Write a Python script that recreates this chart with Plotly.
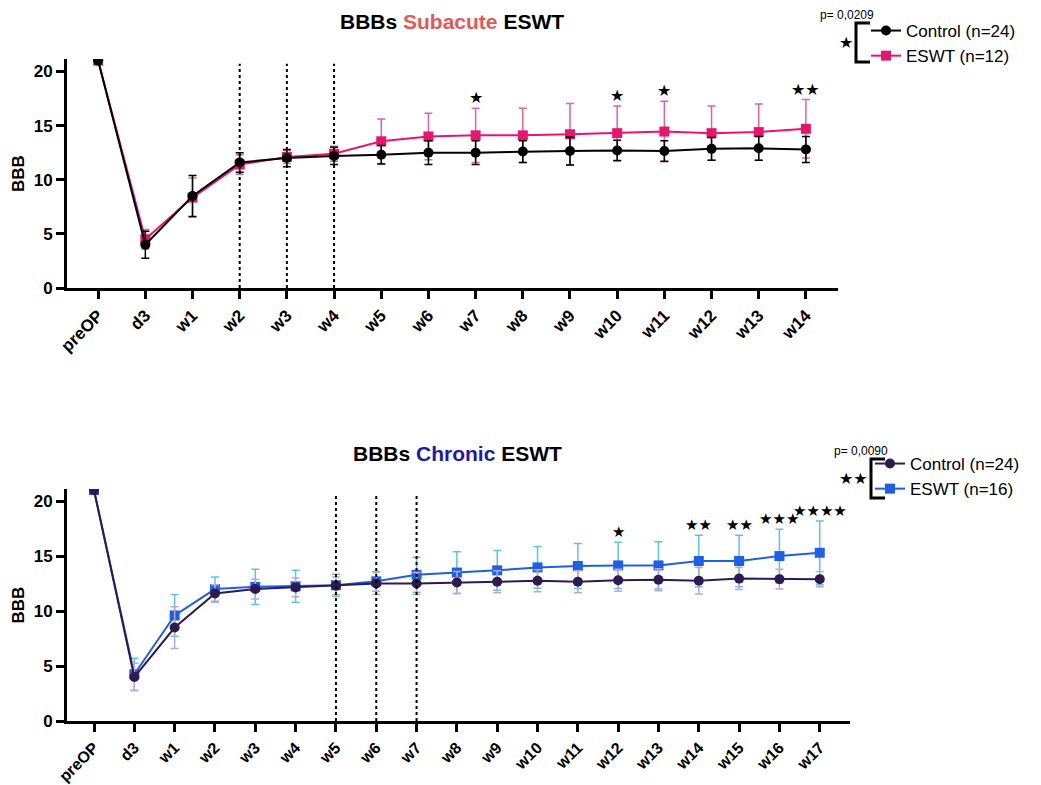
import plotly.graph_objects as go

W, H = 1041, 785

# ---------------- data ----------------
cats_sub = ["preOP", "d3", "w1", "w2", "w3", "w4", "w5", "w6", "w7", "w8",
            "w9", "w10", "w11", "w12", "w13", "w14"]
control_sub = [21, 4.0, 8.5, 11.6, 12.0, 12.2, 12.3, 12.5, 12.5, 12.6,
               12.65, 12.7, 12.65, 12.85, 12.9, 12.8]
control_sub_sd = [0, 1.25, 1.9, 0.9, 0.8, 0.8, 0.85, 1.1, 1.1, 1.0,
                  1.3, 0.95, 0.95, 1.05, 1.1, 1.2]
eswt_sub = [21, 4.5, 8.35, 11.4, 12.1, 12.4, 13.55, 14.0, 14.1, 14.1,
            14.2, 14.3, 14.45, 14.3, 14.4, 14.7]
eswt_sub_sd = [0, 0.9, 1.8, 0.9, 0.6, 0.7, 2.05, 2.15, 2.5, 2.5,
               2.85, 2.5, 2.8, 2.5, 2.6, 2.7]
treat_sub = ["w2", "w3", "w4"]
stars_sub = {"w7": "★", "w10": "★", "w11": "★", "w14": "★★"}

cats_chr = ["preOP", "d3", "w1", "w2", "w3", "w4", "w5", "w6", "w7", "w8",
            "w9", "w10", "w11", "w12", "w13", "w14", "w15", "w16", "w17"]
control_chr = [21, 4.0, 8.5, 11.6, 12.0, 12.15, 12.3, 12.5, 12.5, 12.6,
               12.67, 12.75, 12.67, 12.8, 12.85, 12.75, 12.95, 12.9, 12.9]
control_chr_sd = [0, 1.25, 1.9, 0.8, 0.9, 0.85, 0.8, 1.0, 1.0, 1.0,
                  1.0, 1.0, 1.0, 1.0, 1.0, 1.2, 1.0, 0.9, 0.7]
eswt_chr = [21, 4.25, 9.6, 12.0, 12.2, 12.25, 12.35, 12.7, 13.3, 13.5,
            13.7, 13.97, 14.1, 14.15, 14.15, 14.55, 14.55, 15.0, 15.3]
eswt_chr_sd = [0, 1.45, 1.9, 1.1, 1.6, 1.45, 1.0, 0.9, 1.6, 1.9,
               1.8, 1.9, 2.05, 2.1, 2.15, 2.35, 2.35, 2.45, 2.9]
treat_chr = ["w5", "w6", "w7"]
stars_chr = {"w12": "★", "w14": "★★", "w15": "★★", "w16": "★★★", "w17": "★★★★"}

# ---------------- styling ----------------
FONT = "Liberation Sans, Arial, sans-serif"
BLACK = "#000000"
PINK = "#e8156f"
PINK_ERR = "#e3629c"
PURPLE = "#2e1a52"
PURPLE_ERR = "#b9a9d6"
BLUE = "#1f5fe6"
CYAN_ERR = "#5cc6e0"


def px(x):
    return x / W


def py(y):
    return 1 - y / H


fig = go.Figure()


def add_series(x, y, sd, name, color, errcolor, symbol, xa, ya, legend, rank):
    fig.add_trace(go.Scatter(
        x=x, y=y, name=name, mode="lines+markers",
        line=dict(color=color, width=2),
        marker=dict(color=color, symbol=symbol, size=10),
        error_y=dict(type="data", array=sd, visible=True, color=errcolor,
                     thickness=1.5, width=4),
        xaxis=xa, yaxis=ya, legend=legend, legendrank=rank,
    ))


# top chart (ESWT first so control draws on top)
add_series(cats_sub, eswt_sub, eswt_sub_sd, "ESWT (n=12)", PINK, PINK_ERR,
           "square", "x", "y", "legend", 2)
add_series(cats_sub, control_sub, control_sub_sd, "Control (n=24)", BLACK, BLACK,
           "circle", "x", "y", "legend", 1)
# bottom chart
add_series(cats_chr, eswt_chr, eswt_chr_sd, "ESWT (n=16)", BLUE, CYAN_ERR,
           "square", "x2", "y2", "legend2", 2)
add_series(cats_chr, control_chr, control_chr_sd, "Control (n=24)", PURPLE, PURPLE_ERR,
           "circle", "x2", "y2", "legend2", 1)

axis_common = dict(
    showline=True, linewidth=3, linecolor=BLACK, ticks="outside",
    ticklen=8, tickwidth=3, tickcolor=BLACK, showgrid=False, zeroline=False,
    automargin=False,
    tickfont=dict(family=FONT, size=17, color=BLACK, weight="bold"),
)

fig.update_layout(
    width=W, height=H,
    margin=dict(l=0, r=0, t=0, b=0),
    paper_bgcolor="white", plot_bgcolor="white",
    font=dict(family=FONT, color=BLACK),
    xaxis=dict(axis_common, domain=[px(67), px(838)], anchor="y",
               type="category", categoryorder="array", categoryarray=cats_sub,
               range=[-0.66, 15.68], tickangle=-45),
    yaxis=dict(axis_common, domain=[py(288), py(59)], anchor="x",
               range=[0, 21.15], tickvals=[0, 5, 10, 15, 20],
               title=dict(text="BBB", standoff=5,
                          font=dict(family=FONT, size=17, weight="bold"))),
    xaxis2=dict(axis_common, domain=[px(67), px(850)], anchor="y2",
                type="category", categoryorder="array", categoryarray=cats_chr,
                range=[-0.67, 18.75], tickangle=-45,
                tickfont=dict(family=FONT, size=16, color=BLACK, weight="bold")),
    yaxis2=dict(axis_common, domain=[py(721), py(489)], anchor="x2",
                range=[0, 21.1], tickvals=[0, 5, 10, 15, 20],
                title=dict(text="BBB", standoff=5,
                           font=dict(family=FONT, size=17, weight="bold"))),
    legend=dict(x=px(866), y=py(13), xanchor="left", yanchor="top",
                bgcolor="rgba(0,0,0,0)", traceorder="normal",
                font=dict(family=FONT, size=17, color=BLACK),
                itemwidth=30, tracegroupgap=0),
    legend2=dict(x=px(870), y=py(446), xanchor="left", yanchor="top",
                 bgcolor="rgba(0,0,0,0)", traceorder="normal",
                 font=dict(family=FONT, size=17, color=BLACK),
                 itemwidth=30, tracegroupgap=0),
    showlegend=True,
)

shapes = []
annotations = []

# dotted treatment lines
for c in treat_sub:
    shapes.append(dict(type="line", xref="x", yref="y", x0=c, x1=c, y0=0, y1=20.7,
                       line=dict(color=BLACK, width=2, dash="dot")))
for c in treat_chr:
    shapes.append(dict(type="line", xref="x2", yref="y2", x0=c, x1=c, y0=0, y1=20.7,
                       line=dict(color=BLACK, width=2, dash="dot")))

# significance stars
for c, s in stars_sub.items():
    i = cats_sub.index(c)
    annotations.append(dict(x=c, y=eswt_sub[i] + eswt_sub_sd[i], xref="x", yref="y",
                            text=s, showarrow=False, yanchor="bottom", yshift=-1,
                            font=dict(family="DejaVu Sans", size=16, color=BLACK)))
for c, s in stars_chr.items():
    i = cats_chr.index(c)
    annotations.append(dict(x=c, y=eswt_chr[i] + eswt_chr_sd[i], xref="x2", yref="y2",
                            text=s, showarrow=False, yanchor="bottom", yshift=-1,
                            font=dict(family="DejaVu Sans", size=15, color=BLACK)))

# titles
annotations.append(dict(x=px(452), y=py(22), xref="paper", yref="paper",
                        xanchor="center", yanchor="middle",
                        text="<b>BBBs <span style='color:#e45858'>Subacute</span> ESWT</b>",
                        showarrow=False, font=dict(family=FONT, size=21, color=BLACK)))
annotations.append(dict(x=px(457), y=py(453), xref="paper", yref="paper",
                        xanchor="center", yanchor="middle",
                        text="<b>BBBs <span style='color:#1c1aa6'>Chronic</span> ESWT</b>",
                        showarrow=False, font=dict(family=FONT, size=21, color=BLACK)))


def bracket(xv, ytop, ybot, xr, star, star_x, ptext, p_x, p_y):
    shapes.append(dict(type="path", xref="paper", yref="paper",
                       path=f"M {px(xr)},{py(ytop)} L {px(xv)},{py(ytop)} "
                            f"L {px(xv)},{py(ybot)} L {px(xr)},{py(ybot)}",
                       line=dict(color=BLACK, width=3)))
    annotations.append(dict(x=px(star_x), y=py((ytop + ybot) / 2), xref="paper",
                            yref="paper", text=star, showarrow=False,
                            xanchor="right", yanchor="middle",
                            font=dict(family="DejaVu Sans", size=16, color=BLACK)))
    annotations.append(dict(x=px(p_x), y=py(p_y), xref="paper", yref="paper",
                            text=ptext, showarrow=False,
                            xanchor="center", yanchor="middle",
                            font=dict(family=FONT, size=12, color=BLACK)))


bracket(856, 23, 62, 870, "★", 855, "p= 0,0209", 847, 15)
bracket(871, 459, 498, 885, "★★", 870, "p= 0,0090", 861, 451)

fig.update_layout(shapes=shapes, annotations=annotations)

fig.write_html(
    "out.html",
    config={"displayModeBar": False},
    post_script="document.body.style.margin='0';document.body.style.padding='0';"
                "document.documentElement.style.overflow='hidden';",
)
